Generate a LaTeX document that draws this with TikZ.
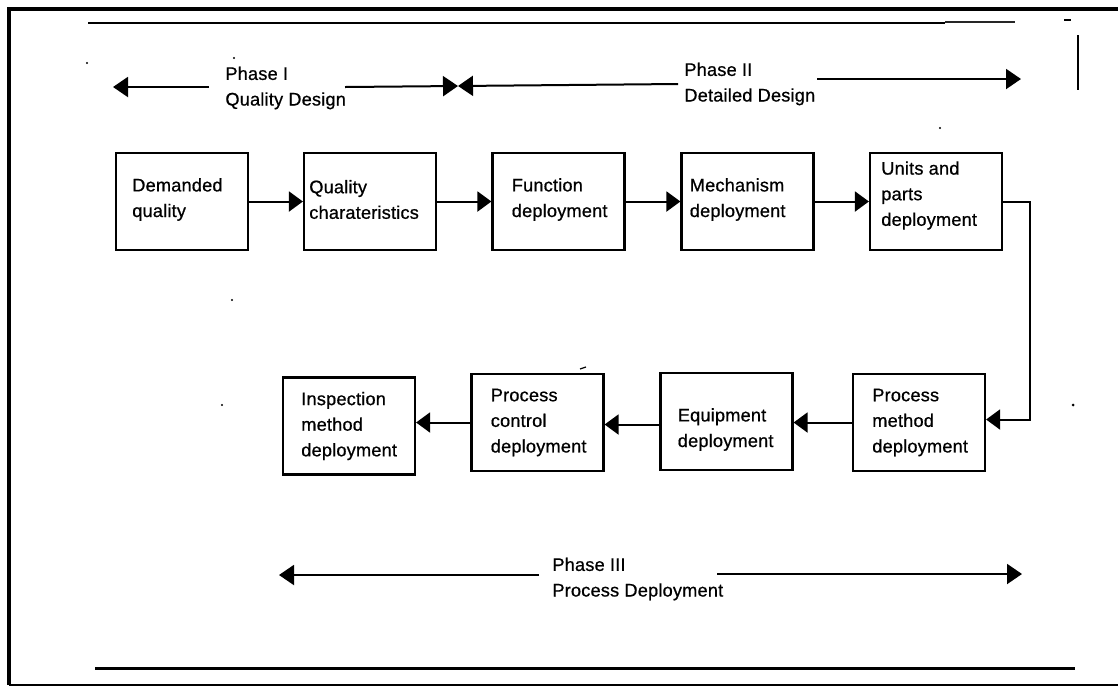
\documentclass[tikz,border=0pt]{standalone}
\usepackage{fontspec}
\setmainfont{Liberation Sans}
\newfontfamily\diagfont{Liberation Sans}[FakeBold=0.7, LetterSpace=1]
\usetikzlibrary{arrows.meta,calc}
\begin{document}
\begin{tikzpicture}[x=0.5pt,y=-0.5pt,
  box/.style={draw, line width=1.1pt, minimum width=66pt, minimum height=48.5pt, inner sep=0pt},
  lbl/.style={anchor=west, inner sep=0pt, align=left, font=\diagfont\fontsize{9.1}{12.8}\selectfont},
  flow/.style={line width=1pt, -{Triangle[length=7pt,width=10pt]}},
  phase/.style={line width=1pt, -{Triangle[length=7.5pt,width=10pt]}},
  speck/.style={fill=black, draw=none},
]
\useasboundingbox (0,0) rectangle (1118,687);

% outer frame, open on the right
\draw[line width=2pt] (1118,9) -- (9,9) -- (9,685);
\draw[line width=1.2pt] (9,685) -- (1118,685);

% ruled lines at top and bottom of the panel
\draw[line width=0.6pt] (88,23) -- (945,23);
\draw[line width=1.4pt, black!85] (945,22) -- (1015,22);
\draw[line width=1.5pt] (95,668) -- (1075,668);
\draw[line width=0.8pt] (1078,35) -- (1078,90);
\draw[line width=0.8pt] (1064,20) -- (1071,20);

% small specks
\fill[speck] (87,63) circle (1.2);
\fill[speck] (234,58) circle (1.2);
\fill[speck] (232,300) circle (1.2);
\fill[speck] (222,405) circle (1.2);
\fill[speck] (1073,405) circle (1.5);
\fill[speck] (940,128) circle (1.2);
\draw[line width=0.6pt] (580,369) -- (586,367);

% phase headings
\node[lbl] (ph1) at (225,88) {Phase I\\Quality Design};
\node[lbl] (ph2) at (684,84) {Phase II\\Detailed Design};
\node[lbl] (ph3) at (552,579) {Phase III\\Process Deployment};

\coordinate (p1tip) at (113,87);
\coordinate (p1a) at (209,87);
\coordinate (p1b) at (345,87);
\coordinate (bow) at (458,86);
\coordinate (p2a) at (678,84);
\coordinate (p2b) at (817,79);
\coordinate (p2tip) at (1021,79);
\coordinate (p3tip) at (279,575);
\coordinate (p3a) at (539,575);
\coordinate (p3b) at (717,574);
\coordinate (p3tip2) at (1022,574);

\draw[phase] (p1a) -- (p1tip);
\draw[phase] (p1b) -- (bow);
\draw[phase] (p2a) -- (bow);
\draw[phase] (p2b) -- (p2tip);
\draw[phase] (p3a) -- (p3tip);
\draw[phase] (p3b) -- (p3tip2);

% design steps
\node[box] (b1) at (182,201.5) {};
\node[box] (b2) at (370,201.5) {};
\node[box] (b3) at (558.5,201.5) {};
\node[box] (b4) at (747.5,201.5) {};
\node[box] (b5) at (936,201.5) {};

\node[lbl] (t1) at ($(b1.west)+(17,-2)$) {Demanded\\quality};
\node[lbl] (t2) at ($(b2.west)+(6,-2)$) {Quality\\charateristics};
\node[lbl] (t3) at ($(b3.west)+(20,-2)$) {Function\\deployment};
\node[lbl] (t4) at ($(b4.west)+(9,-2)$) {Mechanism\\deployment};
\node[lbl] (t5) at ($(b5.west)+(12,-6)$) {Units and\\parts\\deployment};

% process steps
\node[box] (c1) at (919,422.5) {};
\node[box] (c2) at (726.5,421.5) {};
\node[box] (c3) at (537.5,422.5) {};
\node[box] (c4) at (349,426) {};

\node[lbl] (s1) at ($(c1.west)+(20,0)$) {Process\\method\\deployment};
\node[lbl] (s2) at ($(c2.west)+(18,8)$) {Equipment\\deployment};
\node[lbl] (s3) at ($(c3.west)+(20,0)$) {Process\\control\\deployment};
\node[lbl] (s4) at ($(c4.west)+(19,0)$) {Inspection\\method\\deployment};

% connectors
\draw[flow] (b1.east) -- (b2.west);
\draw[flow] (b2.east) -- (b3.west);
\draw[flow] (b3.east) -- (b4.west);
\draw[flow] (b4.east) -- (b5.west);
\coordinate (turn) at (1030,201.5);
\draw[flow] (b5.east) -- (turn) |- ($(c1.east)+(0,-3)$);
\draw[flow] (c1.west) -- (c1.west -| c2.east);
\draw[flow] ($(c2.west)+(0,3)$) -- ($(c2.west -| c3.east)+(0,3)$);
\draw[flow] (c3.west) -- (c3.west -| c4.east);
\end{tikzpicture}
\end{document}
